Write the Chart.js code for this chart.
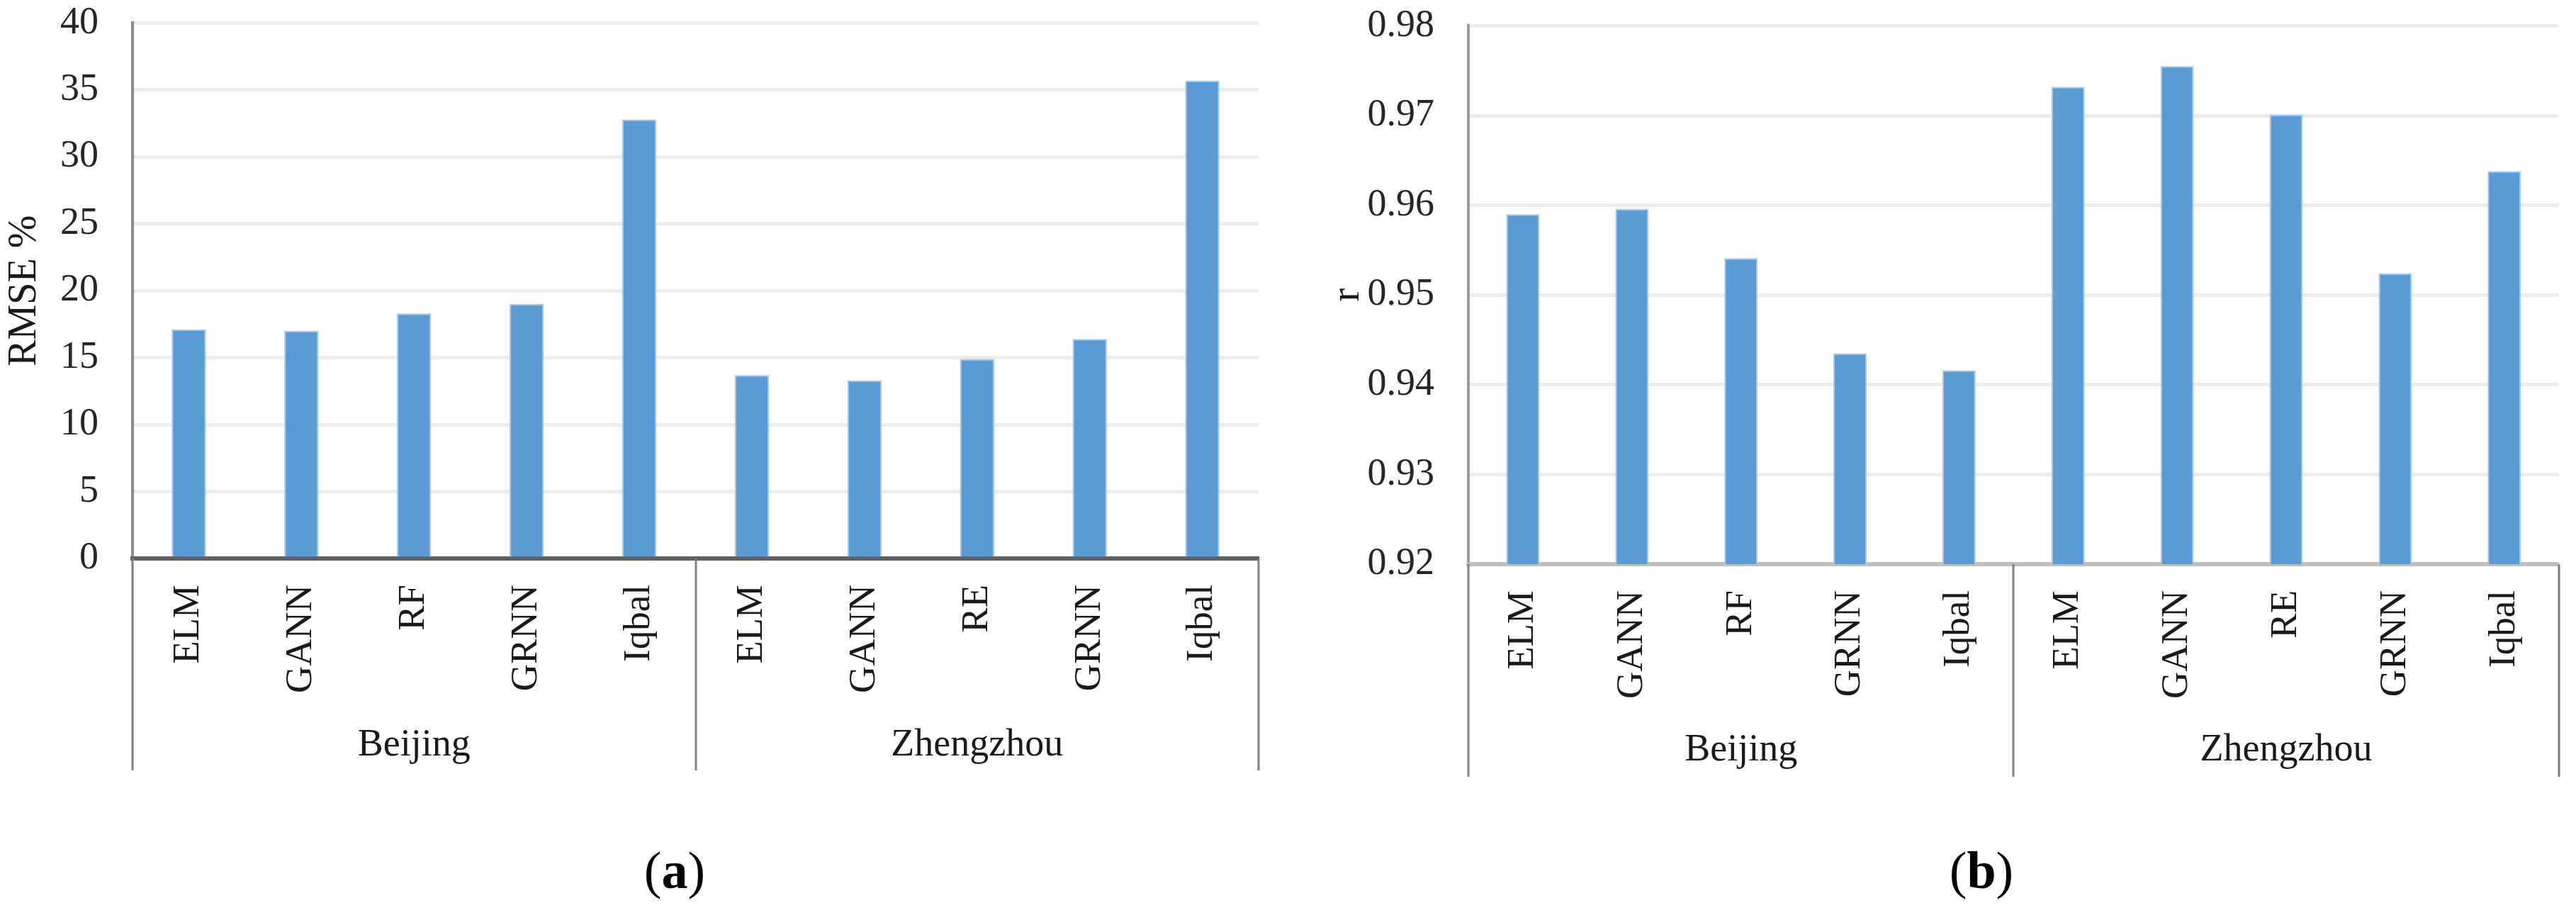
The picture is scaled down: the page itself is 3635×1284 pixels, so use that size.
<!DOCTYPE html>
<html>
<head>
<meta charset="utf-8">
<script src="https://cdn.jsdelivr.net/npm/chart.js@4.4.1/dist/chart.umd.min.js"></script>
<style>
  html, body { margin:0; padding:0; background:#fff; }
  body { width:3635px; height:1284px; position:relative; overflow:hidden; font-family:"Liberation Serif", serif; }
  /* o canvas sobe um pouco: o Chart.js reserva metade do rótulo + padding no topo */
  #boxA { position:absolute; left:0; top:-48px; width:1800px; height:1148px; }
  #boxB { position:absolute; left:1860px; top:-44px; width:1775px; height:1154px; }
  .cap { position:absolute; top:1191px; width:400px; text-align:center; font-size:74px; line-height:74px; color:#000; }
</style>
</head>
<body>
<div id="boxA"><canvas id="chartA" width="1800" height="1148"></canvas></div>
<div id="boxB"><canvas id="chartB" width="1775" height="1154"></canvas></div>
<div class="cap" style="left:752px">(<b>a</b>)</div>
<div class="cap" style="left:2596px">(<b>b</b>)</div>

<script>
// dados
const categories = ['ELM', 'GANN', 'RF', 'GRNN', 'Iqbal', 'ELM', 'GANN', 'RE', 'GRNN', 'Iqbal'];
const cities = ['Beijing', 'Zhengzhou'];
const rmseValues = [17.1, 17.0, 18.3, 19.0, 32.8, 13.7, 13.3, 14.9, 16.4, 35.7];
const rValues = [0.9590, 0.9596, 0.9541, 0.9435, 0.9416, 0.9732, 0.9755, 0.9701, 0.9524, 0.9638];

const FONT = 'Liberation Serif';
const BLUE = '#5b9bd5';

// linhas verticais que separam as cidades embaixo do eixo
const groupLines = {
    id: 'groupLines',
    afterDraw(chart){
        const x = chart.scales.x, x2 = chart.scales.x2, ctx = chart.ctx;
        const step = x.getPixelForValue(1) - x.getPixelForValue(0);
        const perGroup = categories.length / cities.length;
        ctx.save();
        ctx.strokeStyle = '#808080';
        ctx.lineWidth = 3;
        for(let g = 0; g <= cities.length; g++){
            const px = Math.round(x.getPixelForValue(g*perGroup) - step/2);
            ctx.beginPath();
            ctx.moveTo(px, chart.chartArea.bottom);
            ctx.lineTo(px, x2.bottom);
            ctx.stroke();
        }
        ctx.restore();
    }
};

function makeChart(id, values, cfg){
    const ctx = document.getElementById(id).getContext('2d');
    return new Chart(ctx, {
        type: 'bar',
        data: {
            labels: categories,
            datasets: [{
                data: values,
                backgroundColor: BLUE,
                borderColor: '#a7c9eb',
                borderWidth: 2,
                categoryPercentage: 1,
                barPercentage: 0.305,
                xAxisID: 'x'
            }]
        },
        options: {
            responsive: false,
            devicePixelRatio: 1,
            animation: false,
            layout: { padding: cfg.padding },
            plugins: { legend: { display:false }, tooltip: { enabled:false } },
            scales: {
                y: {
                    min: cfg.min, max: cfg.max,
                    ticks: {
                        stepSize: cfg.step,
                        padding: 48,
                        color: '#262626',
                        font: { family: FONT, size: 54 },
                        callback: cfg.fmt
                    },
                    grid: { color: '#ececec', lineWidth: 5, drawTicks: false },
                    border: { color: cfg.yBorder, width: 4 },
                    title: {
                        display: true, text: cfg.title, color: '#1a1a1a',
                        font: { family: FONT, size: 56 },
                        padding: { top: cfg.titlePad, bottom: 0 }
                    },
                    afterFit(s){ s.width = cfg.yWidth; }
                },
                x: {
                    z: 1,
                    offset: true,
                    grid: { display: false, drawTicks: false },
                    border: { color: cfg.xBorder, width: 6 },
                    ticks: {
                        minRotation: 90, maxRotation: 90, autoSkip: false,
                        padding: 37,
                        color: '#1a1a1a',
                        font: { family: FONT, size: 53 }
                    },
                    afterFit(s){ s.height = cfg.xHeight; }
                },
                x2: {
                    type: 'category',
                    position: 'bottom',
                    labels: cities,
                    offset: true,
                    grid: { display: false, drawTicks: false },
                    border: { display: false },
                    ticks: {
                        maxRotation: 0, padding: cfg.cityPad,
                        color: '#1a1a1a',
                        font: { family: FONT, size: 54 }
                    },
                    afterFit(s){ s.height = cfg.x2Height; }
                }
            }
        },
        plugins: [groupLines]
    });
}

document.addEventListener('DOMContentLoaded', function(){
    // (a) RMSE
    makeChart('chartA', rmseValues, {
        padding: { top: 0, right: 24, left: 0, bottom: 13 },
        min: 0, max: 40, step: 5,
        fmt: v => v,
        title: 'RMSE %', titlePad: 2, yWidth: 187,
        yBorder: '#8c8c8c', xBorder: '#606060',
        xHeight: 230, x2Height: 69, cityPad: 1
    });

    // (b) r
    makeChart('chartB', rValues, {
        padding: { top: 0, right: 14, left: 0, bottom: 14 },
        min: 0.92, max: 0.98, step: 0.01,
        fmt: v => v.toFixed(2),
        title: 'r', titlePad: 9, yWidth: 212,
        yBorder: '#999999', xBorder: '#bfbfbf',
        xHeight: 226, x2Height: 74, cityPad: 4
    });
});
</script>
</body>
</html>
